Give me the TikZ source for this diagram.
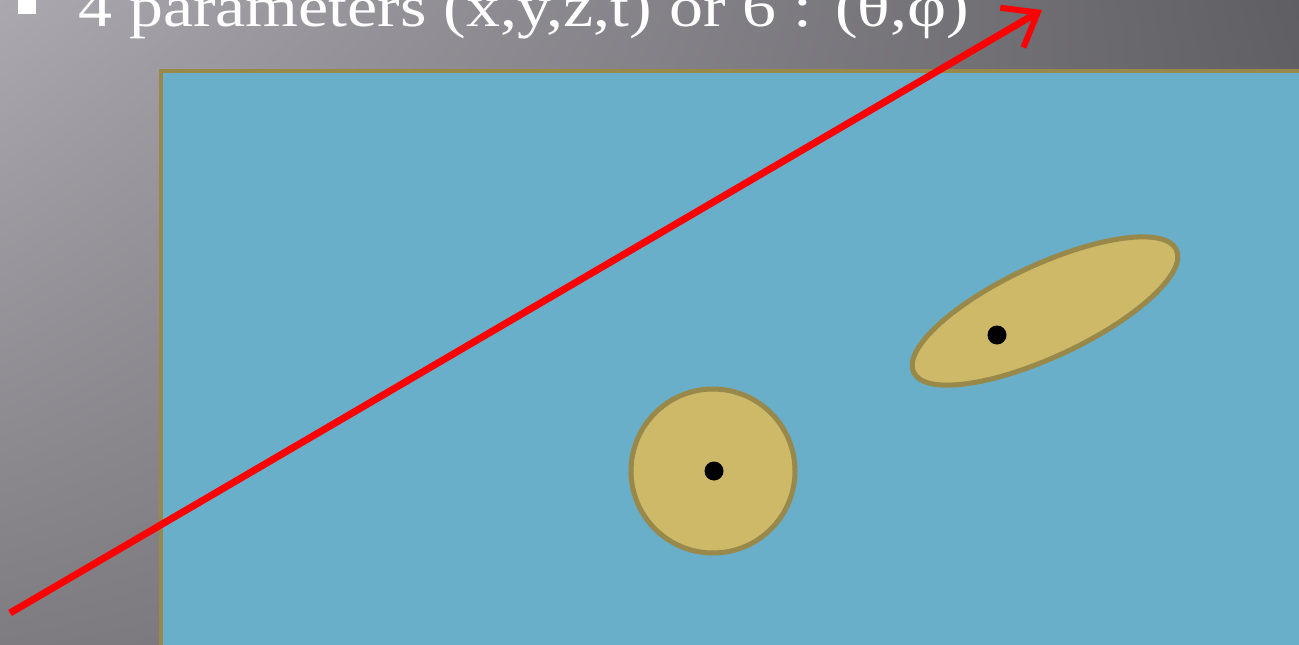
\documentclass[tikz,border=0pt]{standalone}
\usepackage{fontspec}
\setmainfont{Liberation Serif}
\newfontfamily\titlefont[FakeStretch=1.17]{Liberation Serif}
\usetikzlibrary{arrows.meta,shapes.geometric,shadings}
\definecolor{bgA}{HTML}{ABA9AF}
\definecolor{bgB}{HTML}{5F5E63}
\definecolor{bgC}{HTML}{7E7C81}
\definecolor{bgD}{HTML}{6C6B70}
\definecolor{paneblue}{HTML}{69AFC9}
\definecolor{olive}{HTML}{98884A}
\definecolor{sand}{HTML}{CDB968}
\tikzset{
  blob/.style={draw=olive, line width=5pt, fill=sand, inner sep=0pt},
  dotmark/.style={circle, fill=black, minimum size=19pt, inner sep=0pt},
  ray/.style={draw=red, line width=7pt, -{Straight Barb[length=30pt,width=46pt,line width=6pt]}},
  label/.style={text=white, font=\titlefont\fontsize{58}{64}\selectfont, inner sep=0pt}
}
\begin{document}
\begin{tikzpicture}[x=1pt,y=-1pt]
\useasboundingbox (0,0) rectangle (1299,645);
\clip (0,0) rectangle (1299,645);
\shade[upper left=bgA, upper right=bgB, lower left=bgC, lower right=bgD] (0,0) rectangle (1299,645);
\fill[white] (18,-5) rectangle (36,14);
\node[label, anchor=base west] (title) at (78,27) {4 parameters (x,y,z,t) or 6 : (θ,φ)};
\draw[draw=olive, line width=4pt, fill=paneblue] (161,71) rectangle (1320,665);
\node[blob, circle, minimum size=164pt] (round) at (713,471) {};
\node[blob, ellipse, minimum width=290pt, minimum height=92pt, rotate=25] (long) at (1045,311) {};
\node[dotmark] (c1) at (714,471) {};
\node[dotmark] (c2) at (997,335) {};
\coordinate (start) at (10,613);
\coordinate (tip) at (1042,10);
\draw[ray] (start) -- (tip);
\end{tikzpicture}
\end{document}
